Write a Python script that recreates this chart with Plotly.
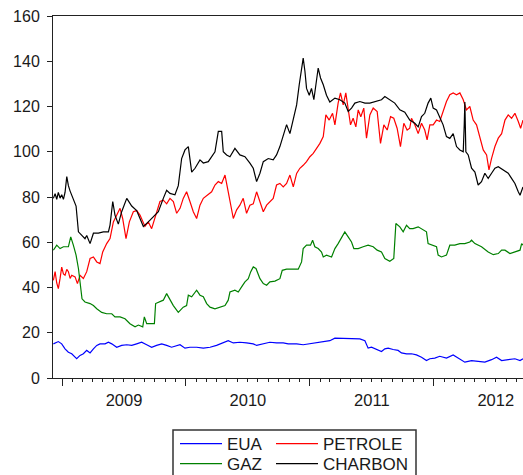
import datetime as dt
import plotly.graph_objects as go

# ---- data (decimal years) ----
charbon_t = [2008.930, 2008.944, 2008.957, 2008.970, 2008.984, 2008.997, 2009.011, 2009.024, 2009.038, 2009.051,
             2009.065, 2009.091, 2009.113, 2009.132, 2009.159, 2009.185, 2009.199, 2009.226, 2009.253, 2009.293,
             2009.333, 2009.374, 2009.387, 2009.409, 2009.427, 2009.454, 2009.481, 2009.522, 2009.562, 2009.602,
             2009.629, 2009.656, 2009.696, 2009.737, 2009.777, 2009.817, 2009.844, 2009.871, 2009.911, 2009.938,
             2009.965, 2009.992, 2010.019, 2010.046, 2010.073, 2010.113, 2010.140, 2010.180, 2010.207, 2010.234,
             2010.261, 2010.288, 2010.301, 2010.328, 2010.355, 2010.395, 2010.435, 2010.476, 2010.516, 2010.543,
             2010.570, 2010.597, 2010.624, 2010.664, 2010.704, 2010.731, 2010.758, 2010.785, 2010.812, 2010.839,
             2010.866, 2010.893, 2010.914, 2010.933, 2010.946, 2010.960, 2010.973, 2010.995, 2011.013, 2011.032,
             2011.054, 2011.067, 2011.086, 2011.108, 2011.134, 2011.161, 2011.202, 2011.242, 2011.282, 2011.309,
             2011.336, 2011.363, 2011.403, 2011.444, 2011.484, 2011.538, 2011.578, 2011.605, 2011.645, 2011.685,
             2011.726, 2011.766, 2011.806, 2011.847, 2011.874, 2011.901, 2011.927, 2011.954, 2011.976, 2011.995,
             2012.022, 2012.048, 2012.075, 2012.102, 2012.129, 2012.156, 2012.183, 2012.210, 2012.237, 2012.245,
             2012.250, 2012.258, 2012.277, 2012.304, 2012.331, 2012.357, 2012.384, 2012.411, 2012.438, 2012.465,
             2012.492, 2012.519, 2012.559, 2012.599, 2012.626, 2012.653, 2012.680, 2012.694, 2012.718]
charbon_v = [79.4, 81.5, 79, 82, 79.5, 81, 79, 82, 89, 85,
             82.6, 79, 76, 64.6, 63, 61.6, 63, 59.4, 64, 64,
             64.6, 64.6, 67.6, 78, 72, 68, 73.5, 79.4, 76, 74,
             70.5, 67, 69, 71.3, 73.5, 79.4, 83, 81.6, 81, 85,
             97, 100.8, 102.3, 91, 92.7, 96.4, 95, 95.6, 97.8, 100,
             109, 109, 100, 98.6, 97.8, 101.5, 98.6, 97.8, 95, 92.7,
             86.8, 90.5, 95.6, 97, 96.4, 98.6, 102.3, 106.7, 112, 108,
             115, 120.7, 129.6, 137, 141.4, 135.6, 128, 125, 128, 123,
             131, 137, 132.6, 129.6, 125, 122, 123.7, 123, 121.5, 117.8,
             119.3, 121.5, 122.2, 121.5, 121.5, 122.2, 123, 124.4, 123, 121.5,
             118.5, 117.5, 114, 112.6, 111, 115.5, 117, 121.5, 123.7, 119.3,
             118.5, 115.5, 111.9, 106.7, 105.9, 108, 102.3, 100.8, 100, 111.8,
             122, 100, 98.6, 92.7, 91, 85.3, 86.8, 90.5, 88.2, 90.5,
             92.7, 93.4, 92, 90.5, 88.2, 86, 82.3, 80.8, 84.4]

petrole_t = [2008.930, 2008.944, 2008.957, 2008.970, 2008.984, 2008.997, 2009.011, 2009.024, 2009.038, 2009.051,
             2009.065, 2009.078, 2009.105, 2009.124, 2009.145, 2009.172, 2009.199, 2009.226, 2009.253, 2009.280,
             2009.306, 2009.328, 2009.360, 2009.387, 2009.414, 2009.441, 2009.468, 2009.489, 2009.516, 2009.543,
             2009.575, 2009.602, 2009.629, 2009.669, 2009.696, 2009.723, 2009.750, 2009.790, 2009.817, 2009.844,
             2009.871, 2009.898, 2009.925, 2009.952, 2009.978, 2010.005, 2010.032, 2010.059, 2010.086, 2010.113,
             2010.140, 2010.180, 2010.207, 2010.234, 2010.261, 2010.288, 2010.315, 2010.341, 2010.368, 2010.382,
             2010.409, 2010.435, 2010.462, 2010.489, 2010.516, 2010.543, 2010.570, 2010.597, 2010.624, 2010.651,
             2010.677, 2010.704, 2010.731, 2010.758, 2010.785, 2010.812, 2010.839, 2010.866, 2010.893, 2010.919,
             2010.946, 2010.973, 2011.000, 2011.027, 2011.054, 2011.081, 2011.108, 2011.129, 2011.156, 2011.183,
             2011.202, 2011.228, 2011.247, 2011.269, 2011.290, 2011.309, 2011.328, 2011.349, 2011.371, 2011.390,
             2011.411, 2011.435, 2011.457, 2011.484, 2011.511, 2011.543, 2011.570, 2011.597, 2011.624, 2011.651,
             2011.677, 2011.704, 2011.731, 2011.758, 2011.785, 2011.806, 2011.820, 2011.847, 2011.874, 2011.901,
             2011.927, 2011.946, 2011.968, 2011.995, 2012.022, 2012.048, 2012.075, 2012.102, 2012.129, 2012.156,
             2012.183, 2012.210, 2012.237, 2012.263, 2012.290, 2012.317, 2012.344, 2012.371, 2012.398, 2012.425,
             2012.444, 2012.465, 2012.492, 2012.519, 2012.546, 2012.573, 2012.599, 2012.626, 2012.653, 2012.680,
             2012.699, 2012.718]
petrole_v = [43.2, 47, 42, 39.5, 44, 49, 46, 45.4, 48, 47,
             44, 45.4, 44.7, 41.7, 45.4, 44, 47, 52.8, 53.5, 51.3,
             50.6, 55.7, 59.4, 61.6, 69, 72, 75, 70.5, 61.6, 69,
             73.5, 74, 72, 67, 69, 66, 70.5, 78, 78.6, 77,
             79.4, 78, 72.8, 75, 79.4, 82.3, 78, 73.5, 70.5, 76.4,
             79.4, 81, 82.3, 85.3, 86.8, 86, 89.7, 82.3, 73.5, 70.5,
             74.3, 76.4, 79.4, 72.8, 76.4, 77, 82.3, 78, 73.5, 76.4,
             78, 79.4, 85.3, 86, 84.5, 86, 89.7, 84.5, 90.4, 92.7,
             94, 95.6, 97.8, 99.3, 101.5, 103.7, 106.7, 116.3, 114, 117,
             111.9, 121.5, 126, 120.7, 126, 119.3, 111.9, 114.8, 111, 118.5,
             115.5, 119.3, 106, 116.3, 119.3, 117.8, 103.7, 111.9, 109.6, 115.5,
             114.8, 110.4, 102.3, 112.6, 109.6, 110.4, 114.8, 111.9, 108, 112.6,
             109.6, 105.2, 111.9, 111.9, 114, 113.4, 117.8, 122.2, 125.2, 126,
             125.2, 126, 123, 118.5, 120, 114, 111.9, 106.7, 100.8, 98.6,
             92, 97.1, 102.3, 106, 108, 114, 116.3, 114.8, 117, 113.4,
             110.4, 114]

gaz_t = [2008.930, 2008.957, 2008.984, 2009.011, 2009.051, 2009.070, 2009.091, 2009.113, 2009.132, 2009.151,
         2009.161, 2009.185, 2009.226, 2009.253, 2009.280, 2009.320, 2009.360, 2009.401, 2009.427, 2009.468,
         2009.508, 2009.548, 2009.589, 2009.616, 2009.651, 2009.664, 2009.683, 2009.723, 2009.745, 2009.755,
         2009.790, 2009.817, 2009.844, 2009.871, 2009.898, 2009.938, 2009.978, 2010.005, 2010.019, 2010.046,
         2010.086, 2010.113, 2010.140, 2010.167, 2010.194, 2010.234, 2010.274, 2010.315, 2010.341, 2010.355,
         2010.395, 2010.422, 2010.449, 2010.476, 2010.503, 2010.522, 2010.543, 2010.565, 2010.597, 2010.624,
         2010.651, 2010.677, 2010.718, 2010.758, 2010.777, 2010.812, 2010.852, 2010.906, 2010.933, 2010.946,
         2010.973, 2011.005, 2011.022, 2011.040, 2011.067, 2011.094, 2011.108, 2011.134, 2011.175, 2011.202,
         2011.228, 2011.269, 2011.282, 2011.309, 2011.336, 2011.355, 2011.390, 2011.430, 2011.470, 2011.511,
         2011.543, 2011.578, 2011.605, 2011.645, 2011.677, 2011.694, 2011.726, 2011.753, 2011.780, 2011.806,
         2011.833, 2011.874, 2011.914, 2011.941, 2011.954, 2011.995, 2012.022, 2012.035, 2012.062, 2012.102,
         2012.129, 2012.169, 2012.210, 2012.250, 2012.290, 2012.304, 2012.331, 2012.384, 2012.438, 2012.479,
         2012.519, 2012.546, 2012.573, 2012.613, 2012.653, 2012.694, 2012.707, 2012.718]
gaz_v = [56.5, 58.7, 57.2, 58, 58, 62.4, 58.7, 54.3, 48.4, 41,
         35, 33.6, 32.9, 32, 30.6, 29, 28.4, 28.4, 27, 27,
         26.2, 24, 22.6, 23.4, 22.6, 27, 24, 24, 24, 32.9,
         33.6, 34.4, 37.3, 34.4, 32, 29, 31.3, 32, 36.6, 35.9,
         38.8, 36.6, 35.9, 32.9, 31.3, 30.6, 31.3, 32, 34.4, 38,
         38.8, 38, 40.3, 42.5, 43.9, 46.9, 49.1, 48.4, 43.9, 41.7,
         41, 42.5, 42.8, 43.9, 47.6, 48.1, 48.1, 48.1, 51.3, 57.2,
         58.7, 58.7, 60.9, 58, 57.2, 55.7, 53.5, 54.3, 53.5, 57.2,
         59.4, 63.9, 64.6, 62.4, 60.1, 57.2, 57.2, 58, 58.7, 58,
         56.5, 55.7, 52.8, 51.6, 52.8, 68.3, 66.8, 64.6, 67.5, 66,
         66, 66.8, 65.3, 64.6, 59.4, 58.7, 58, 54.3, 53.5, 54.3,
         58.7, 58.7, 59.4, 59.4, 60.1, 60.9, 59.4, 58, 55.7, 54.5,
         55, 56.5, 56.5, 55, 55.7, 56.5, 59.4, 58.7]

eua_t = [2008.930, 2008.970, 2008.997, 2009.024, 2009.051, 2009.078, 2009.105, 2009.118, 2009.145, 2009.172,
         2009.199, 2009.226, 2009.253, 2009.280, 2009.306, 2009.347, 2009.374, 2009.401, 2009.441, 2009.481,
         2009.522, 2009.562, 2009.602, 2009.642, 2009.683, 2009.723, 2009.763, 2009.804, 2009.844, 2009.884,
         2009.952, 2009.992, 2010.032, 2010.086, 2010.140, 2010.194, 2010.247, 2010.301, 2010.341, 2010.382,
         2010.435, 2010.489, 2010.543, 2010.570, 2010.624, 2010.677, 2010.731, 2010.785, 2010.825, 2010.893,
         2010.946, 2011.000, 2011.054, 2011.108, 2011.161, 2011.202, 2011.242, 2011.296, 2011.349, 2011.403,
         2011.444, 2011.470, 2011.497, 2011.524, 2011.551, 2011.578, 2011.605, 2011.632, 2011.672, 2011.712,
         2011.739, 2011.780, 2011.820, 2011.860, 2011.901, 2011.941, 2011.968, 2012.008, 2012.048, 2012.102,
         2012.156, 2012.196, 2012.250, 2012.304, 2012.357, 2012.411, 2012.465, 2012.505, 2012.546, 2012.599,
         2012.653, 2012.694, 2012.718]
eua_v = [15.1, 16.1, 15.1, 12.9, 11.4, 10.7, 9.2, 8.5, 10, 10.7,
         12.2, 11.1, 12.9, 14.4, 15.1, 15.1, 15.8, 15.1, 13.6, 14.4,
         14.7, 14.4, 15.1, 15.8, 14.7, 13.6, 14.4, 15.1, 14.4, 13.6,
         14.7, 13.2, 13.6, 13.6, 13.2, 13.6, 14.4, 15.5, 16.5, 15.5,
         15.8, 15.5, 15.1, 14.4, 15.1, 15.8, 15.5, 15.5, 15.1, 15.1,
         14.7, 15.1, 15.4, 15.8, 16.5, 17.6, 17.6, 17.6, 17.3, 17.3,
         16.5, 13.2, 13.6, 12.9, 12.2, 11.7, 12.9, 13.2, 12.6, 12.2,
         11.1, 10.7, 10.7, 10.2, 9.2, 7.7, 8.5, 8.8, 9.6, 8.8,
         10.2, 8.8, 7.0, 7.7, 7.3, 7.0, 8.1, 9.2, 7.7, 8.1,
         8.5, 7.7, 8.5]

x_range_years = [2008.927, 2012.718]
y_ticks = [0, 20, 40, 60, 80, 100, 120, 140, 160]


def to_date(t):
    y = int(t)
    start = dt.datetime(y, 1, 1)
    n = (dt.datetime(y + 1, 1, 1) - start).days
    return (start + dt.timedelta(days=(t - y) * n)).strftime("%Y-%m-%d %H:%M")


# figure fills the whole window (page margin removed in post_script below)
W, H = 523, 475
# plot area in window pixels
PL, PT, PR, PB = 53, 16, 523, 378
L, T = PL, PT
R = W - PR
B = H - PB
pw, ph = W - L - R, H - T - B

# legend slots: (legend id, left px of legend box, row centre px)
series = [
    ("EUA", eua_t, eua_v, "#0000FF", "legend", 175, 444),
    ("PETROLE", petrole_t, petrole_v, "#FF0000", "legend2", 271, 444),
    ("GAZ", gaz_t, gaz_v, "#008000", "legend3", 175, 464),
    ("CHARBON", charbon_t, charbon_v, "#000000", "legend4", 271, 464),
]

font = "Arial, Liberation Sans, sans-serif"
fig = go.Figure()
legends = {}
for name, ts, vs, col, lg, lx, ly in series:
    fig.add_trace(go.Scatter(x=[to_date(t) for t in ts], y=vs, mode="lines", name=name,
                             line=dict(color=col, width=1.2), legend=lg, hoverinfo="skip"))
    legends[lg] = dict(xref="container", yref="container",
                       x=lx / W, y=1 - ly / H,
                       xanchor="left", yanchor="middle", orientation="v",
                       bgcolor="rgba(0,0,0,0)", borderwidth=0, itemwidth=42,
                       font=dict(size=17, family=font, color="#1a1a1a"))


def px_x(p):
    return (p - L) / pw


def px_y(p):
    return (H - B - p) / ph


fig.update_layout(
    width=W, height=H,
    margin=dict(l=L, r=R, t=T, b=B, pad=0, autoexpand=False),
    plot_bgcolor="white", paper_bgcolor="white",
    font=dict(family=font, color="#1a1a1a"),
    hovermode=False,
    xaxis=dict(
        type="date", automargin=False,
        range=[to_date(x_range_years[0]), to_date(x_range_years[1])],
        showgrid=False, zeroline=False,
        showline=True, linecolor="#222", linewidth=1, mirror=True,
        ticks="outside", ticklen=7, tickcolor="#222", tickwidth=1,
        dtick="M12", tick0="2009-01-01", tickformat="%Y",
        ticklabelmode="period", ticklabeloverflow="allow",
        tickfont=dict(size=16.5, family=font, color="#1a1a1a"),
        minor=dict(ticks="outside", ticklen=3, tickcolor="#222", dtick="M1",
                   tick0="2009-01-01", showgrid=False),
    ),
    yaxis=dict(
        automargin=False,
        range=[0, 160], tickvals=y_ticks,
        showgrid=False, zeroline=False,
        showline=True, linecolor="#222", linewidth=1, mirror=False,
        ticks="outside", ticklen=5, tickcolor="#222",
        tickfont=dict(size=16, family=font, color="#1a1a1a"),
        ticklabelstandoff=4, ticklabeloverflow="allow",
    ),
    shapes=[dict(type="rect", xref="paper", yref="paper",
                 x0=px_x(173), x1=px_x(416), y0=px_y(430), y1=px_y(490),
                 line=dict(color="#333", width=1.5), fillcolor="rgba(0,0,0,0)")],
    showlegend=True,
    **legends,
)

fig.write_html(
    "out.html",
    config={"displayModeBar": False, "staticPlot": False},
    post_script="document.body.style.margin='0px';"
                "document.documentElement.style.overflow='hidden';",
)
